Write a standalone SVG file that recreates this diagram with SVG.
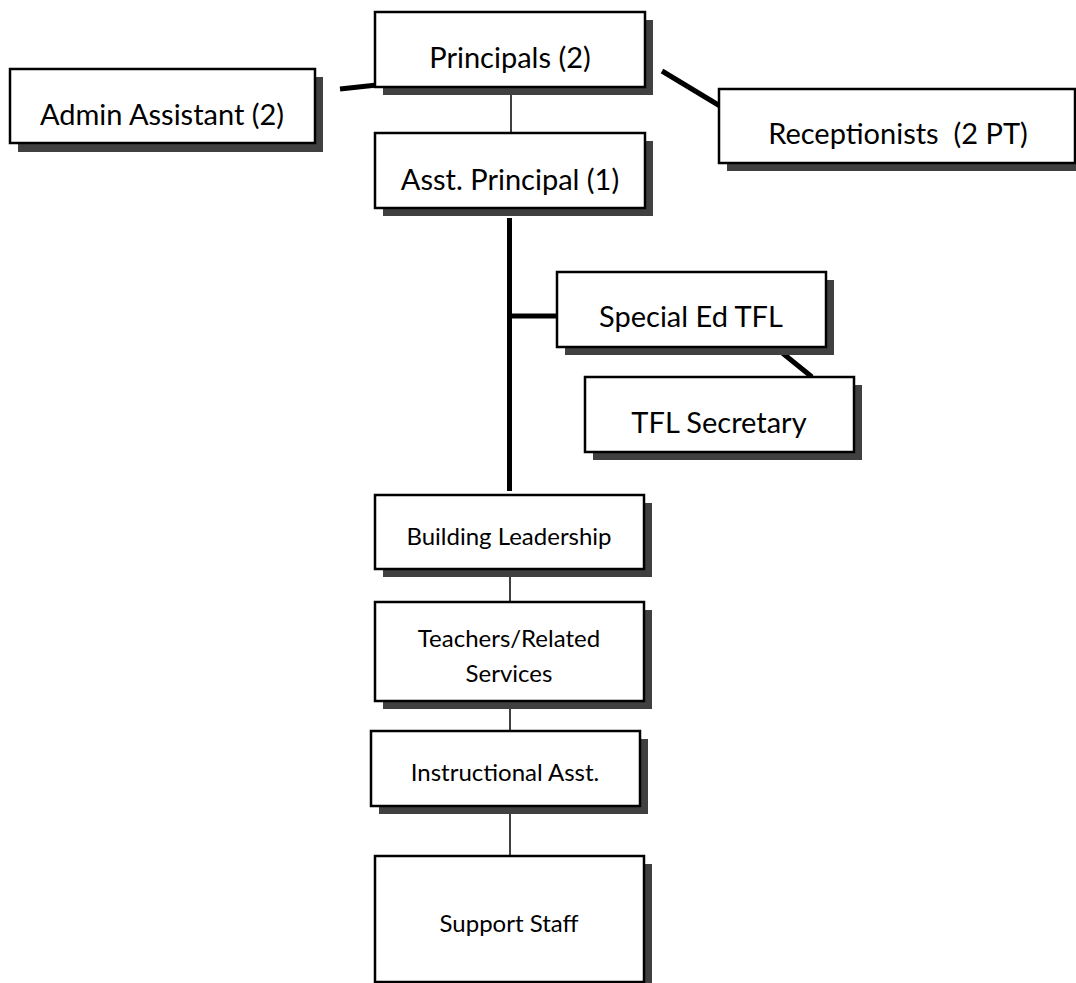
<svg xmlns="http://www.w3.org/2000/svg" width="1076" height="983" viewBox="0 0 1076 983">
<style>
.shadow{fill:#404040;}
.box{fill:#fff;stroke:#000;stroke-width:2.5;}
.t{font-family:Lato,"Open Sans","Liberation Sans",sans-serif;fill:#000;text-anchor:middle;}
.big{font-size:29px;}
.small{font-size:24px;}
.thin{stroke:#000;stroke-width:1.5;fill:none;}
.thick{stroke:#000;stroke-width:5;fill:none;}
</style>
<rect width="1076" height="983" fill="#fff"/>
<g id="connectors">
<line class="thin" x1="511" y1="87" x2="511" y2="133"/>
<line class="thick" x1="340" y1="89" x2="377" y2="85"/>
<line class="thick" x1="662" y1="71" x2="725" y2="109"/>
<line class="thick" x1="509.5" y1="218" x2="509.5" y2="491"/>
<line class="thick" x1="509.5" y1="316" x2="557" y2="316"/>
<line class="thick" x1="775" y1="347" x2="812" y2="377"/>
<line class="thin" x1="510" y1="569" x2="510" y2="602"/>
<line class="thin" x1="510" y1="701" x2="510" y2="731"/>
<line class="thin" x1="510" y1="806" x2="510" y2="856"/>
</g>
<g id="principals">
<rect class="shadow" x="383" y="20" width="270" height="75"/>
<rect class="box" x="375" y="12" width="270" height="75"/>
<text class="t big" x="510" y="68">Principals (2)</text>
</g>
<g id="admin">
<rect class="shadow" x="18" y="77" width="305" height="75"/>
<rect class="box" x="10" y="69" width="305" height="74"/>
<text class="t big" x="162" y="125">Admin Assistant (2)</text>
</g>
<g id="receptionists">
<rect class="shadow" x="727" y="97" width="356" height="74"/>
<rect class="box" x="719" y="89" width="356" height="74"/>
<text class="t big" x="898" y="144" xml:space="preserve">Receptionists  (2 PT)</text>
</g>
<g id="asst-principal">
<rect class="shadow" x="383" y="141" width="270" height="75"/>
<rect class="box" x="375" y="133" width="270" height="75"/>
<text class="t big" x="510" y="190">Asst. Principal (1)</text>
</g>
<g id="special-ed">
<rect class="shadow" x="565" y="280" width="269" height="75"/>
<rect class="box" x="557" y="272" width="269" height="75"/>
<text class="t big" x="691" y="327">Special Ed TFL</text>
</g>
<g id="tfl-secretary">
<rect class="shadow" x="593" y="385" width="269" height="75"/>
<rect class="box" x="585" y="377" width="269" height="75"/>
<text class="t big" x="719" y="433">TFL Secretary</text>
</g>
<g id="building-leadership">
<rect class="shadow" x="383" y="503" width="269" height="74"/>
<rect class="box" x="375" y="495" width="269" height="74"/>
<text class="t small" x="509" y="545">Building Leadership</text>
</g>
<g id="teachers">
<rect class="shadow" x="383" y="610" width="269" height="99"/>
<rect class="box" x="375" y="602" width="269" height="99"/>
<text class="t small" x="509" y="647">Teachers/Related</text>
<text class="t small" x="509" y="682">Services</text>
</g>
<g id="instructional">
<rect class="shadow" x="379" y="739" width="269" height="75"/>
<rect class="box" x="371" y="731" width="269" height="75"/>
<text class="t small" x="505" y="781">Instructional Asst.</text>
</g>
<g id="support">
<rect class="shadow" x="383" y="864" width="269" height="126"/>
<rect class="box" x="375" y="856" width="269" height="126"/>
<text class="t small" x="509" y="932">Support Staff</text>
</g>
</svg>
